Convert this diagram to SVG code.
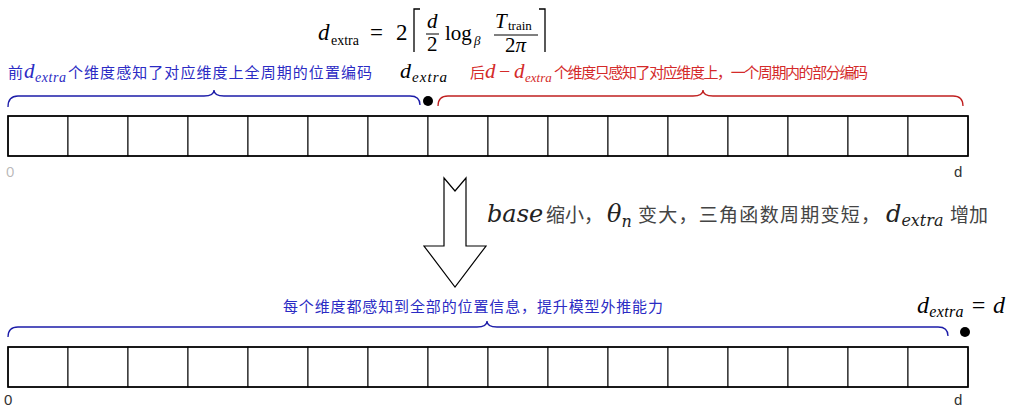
<svg xmlns="http://www.w3.org/2000/svg" width="1016" height="419" viewBox="0 0 1016 419">
<style>
.cell{fill:#fff;stroke:#000;stroke-width:1}
.outer{fill:none;stroke:#000;stroke-width:1.6}
.lbl{font-family:"Liberation Sans",Arial,sans-serif;font-size:15px;fill:#333}
.m{font-family:"Liberation Serif","Times New Roman",serif;font-style:italic}
.dm{font-family:"DejaVu Serif",serif;font-style:italic}
.r{font-family:"Liberation Serif","Times New Roman",serif}
.cjk{font-family:"Noto Sans CJK SC","Noto Sans",sans-serif}
.blue{fill:#2b2bc4}
.red{fill:#d42a2a}
.gray{fill:#444}
.bbrace{fill:none;stroke:#1c1ca8;stroke-width:1.3}
.rbrace{fill:none;stroke:#c02020;stroke-width:1.3}
</style>
<rect width="1016" height="419" fill="#fff"/>

<g id="formula">
  <text x="318" y="40" class="m" font-size="23">d</text>
  <text x="331" y="45" class="r" font-size="14">extra</text>
  <text x="370" y="40" class="r" font-size="23">=</text>
  <text x="396" y="40" class="r" font-size="23">2</text>
  <path d="M420,9 L414,9 L414,52" fill="none" stroke="#000" stroke-width="1.3"/>
  <text x="427" y="28" class="m" font-size="21">d</text>
  <line x1="426" y1="34" x2="439" y2="34" stroke="#000" stroke-width="1"/>
  <text x="427" y="51" class="r" font-size="21">2</text>
  <text x="445" y="40" class="r" font-size="21">log</text>
  <text x="474" y="45" class="m" font-size="13">β</text>
  <text x="495" y="28" class="m" font-size="21">T</text>
  <text x="508" y="30" class="r" font-size="13">train</text>
  <line x1="494" y1="35" x2="538" y2="35" stroke="#000" stroke-width="1"/>
  <text x="505" y="52" class="r" font-size="21">2<tspan class="m">π</tspan></text>
  <path d="M539,9 L545,9 L545,52" fill="none" stroke="#000" stroke-width="1.3"/>
</g>

<g id="label-first">
  <text x="8" y="78" class="cjk blue" font-size="15">前</text>
  <text x="24" y="78" class="m blue" font-size="21" textLength="42" lengthAdjust="spacing">d<tspan font-size="14" dy="4">extra</tspan></text>
  <text x="68" y="78" class="cjk blue" font-size="15" textLength="304" lengthAdjust="spacing">个维度感知了对应维度上全周期的位置编码</text>
</g>

<g id="label-dextra">
  <text x="400" y="78" class="m" font-size="22" textLength="47" lengthAdjust="spacing">d<tspan font-size="15" dy="4">extra</tspan></text>
</g>

<g id="label-rest">
  <text x="470" y="78" class="cjk red" font-size="15">后</text>
  <text x="485" y="78" class="m red" font-size="21">d</text>
  <text x="499" y="78" class="r red" font-size="20">−</text>
  <text x="514" y="78" class="m red" font-size="21">d</text>
  <text x="525" y="82" class="m red" font-size="13">extra</text>
  <text x="554" y="78" class="cjk red" font-size="15" textLength="314" lengthAdjust="spacing">个维度只感知了对应维度上，一个周期内的部分编码</text>
</g>

<g id="connectors">
  <path class="bbrace" d="M8,107 Q8,96 18,96 L204,96 Q214,96 214,90 Q214,96 224,96 L410,96 Q420,96 420,105"/>
  <path class="rbrace" d="M438,106 Q438,96 448,96 L693,96 Q703,96 703,90 Q703,96 713,96 L953,96 Q963,96 963,106"/>
  <path class="bbrace" d="M8,337 Q8,327 18,327 L477,327 Q487,327 487,321 Q487,327 497,327 L938,327 Q948,327 948,336"/>
  <path d="M444,178 L455,191 L466,178 L466,246 L486,246 L455,287 L424,246 L444,246 Z" fill="#fff" stroke="#000" stroke-width="1.2"/>
</g>

<g id="dot-top"><circle cx="428" cy="101" r="5" fill="#000"/></g>
<g id="dot-bottom"><circle cx="965" cy="332" r="5" fill="#000"/></g>

<g id="row-top">
  <rect class="cell" x="8" y="116" width="60" height="40"/>
  <rect class="cell" x="68" y="116" width="60" height="40"/>
  <rect class="cell" x="128" y="116" width="60" height="40"/>
  <rect class="cell" x="188" y="116" width="60" height="40"/>
  <rect class="cell" x="248" y="116" width="60" height="40"/>
  <rect class="cell" x="308" y="116" width="60" height="40"/>
  <rect class="cell" x="368" y="116" width="60" height="40"/>
  <rect class="cell" x="428" y="116" width="60" height="40"/>
  <rect class="cell" x="488" y="116" width="60" height="40"/>
  <rect class="cell" x="548" y="116" width="60" height="40"/>
  <rect class="cell" x="608" y="116" width="60" height="40"/>
  <rect class="cell" x="668" y="116" width="60" height="40"/>
  <rect class="cell" x="728" y="116" width="60" height="40"/>
  <rect class="cell" x="788" y="116" width="60" height="40"/>
  <rect class="cell" x="848" y="116" width="60" height="40"/>
  <rect class="cell" x="908" y="116" width="60" height="40"/>
  <rect class="outer" x="8" y="116" width="960" height="40"/>
  <text x="6" y="177" class="lbl" fill-opacity="0.35">0</text>
  <text x="954" y="177" class="lbl">d</text>
</g>

<g id="label-middle">
  <text x="487" y="222" class="dm" font-size="24" fill="#222">base</text>
  <text x="546" y="222" class="cjk gray" font-size="19">缩小，</text>
  <text x="607" y="222" class="dm" font-size="24" fill="#222">θ<tspan font-size="16" dy="5">n</tspan></text>
  <text x="638" y="222" class="cjk gray" font-size="19" textLength="242" lengthAdjust="spacing">变大，三角函数周期变短，</text>
  <text x="886" y="222" class="dm" font-size="24" fill="#222">d<tspan font-size="16" dy="4">extra</tspan></text>
  <text x="950" y="222" class="cjk gray" font-size="19">增加</text>
</g>

<g id="label-bottom">
  <text x="283" y="312" class="cjk blue" font-size="15" textLength="380" lengthAdjust="spacing">每个维度都感知到全部的位置信息，提升模型外推能力</text>
</g>

<g id="label-dextra-eq-d">
  <text x="917" y="313" class="m" font-size="24" textLength="88" lengthAdjust="spacing">d<tspan font-size="16" dy="4">extra</tspan><tspan dy="-4" class="r"> = </tspan>d</text>
</g>

<g id="row-bottom">
  <rect class="cell" x="8" y="347" width="60" height="40"/>
  <rect class="cell" x="68" y="347" width="60" height="40"/>
  <rect class="cell" x="128" y="347" width="60" height="40"/>
  <rect class="cell" x="188" y="347" width="60" height="40"/>
  <rect class="cell" x="248" y="347" width="60" height="40"/>
  <rect class="cell" x="308" y="347" width="60" height="40"/>
  <rect class="cell" x="368" y="347" width="60" height="40"/>
  <rect class="cell" x="428" y="347" width="60" height="40"/>
  <rect class="cell" x="488" y="347" width="60" height="40"/>
  <rect class="cell" x="548" y="347" width="60" height="40"/>
  <rect class="cell" x="608" y="347" width="60" height="40"/>
  <rect class="cell" x="668" y="347" width="60" height="40"/>
  <rect class="cell" x="728" y="347" width="60" height="40"/>
  <rect class="cell" x="788" y="347" width="60" height="40"/>
  <rect class="cell" x="848" y="347" width="60" height="40"/>
  <rect class="cell" x="908" y="347" width="60" height="40"/>
  <rect class="outer" x="8" y="347" width="960" height="40"/>
  <text x="4" y="405" class="lbl">0</text>
  <text x="954" y="405" class="lbl">d</text>
</g>
</svg>
